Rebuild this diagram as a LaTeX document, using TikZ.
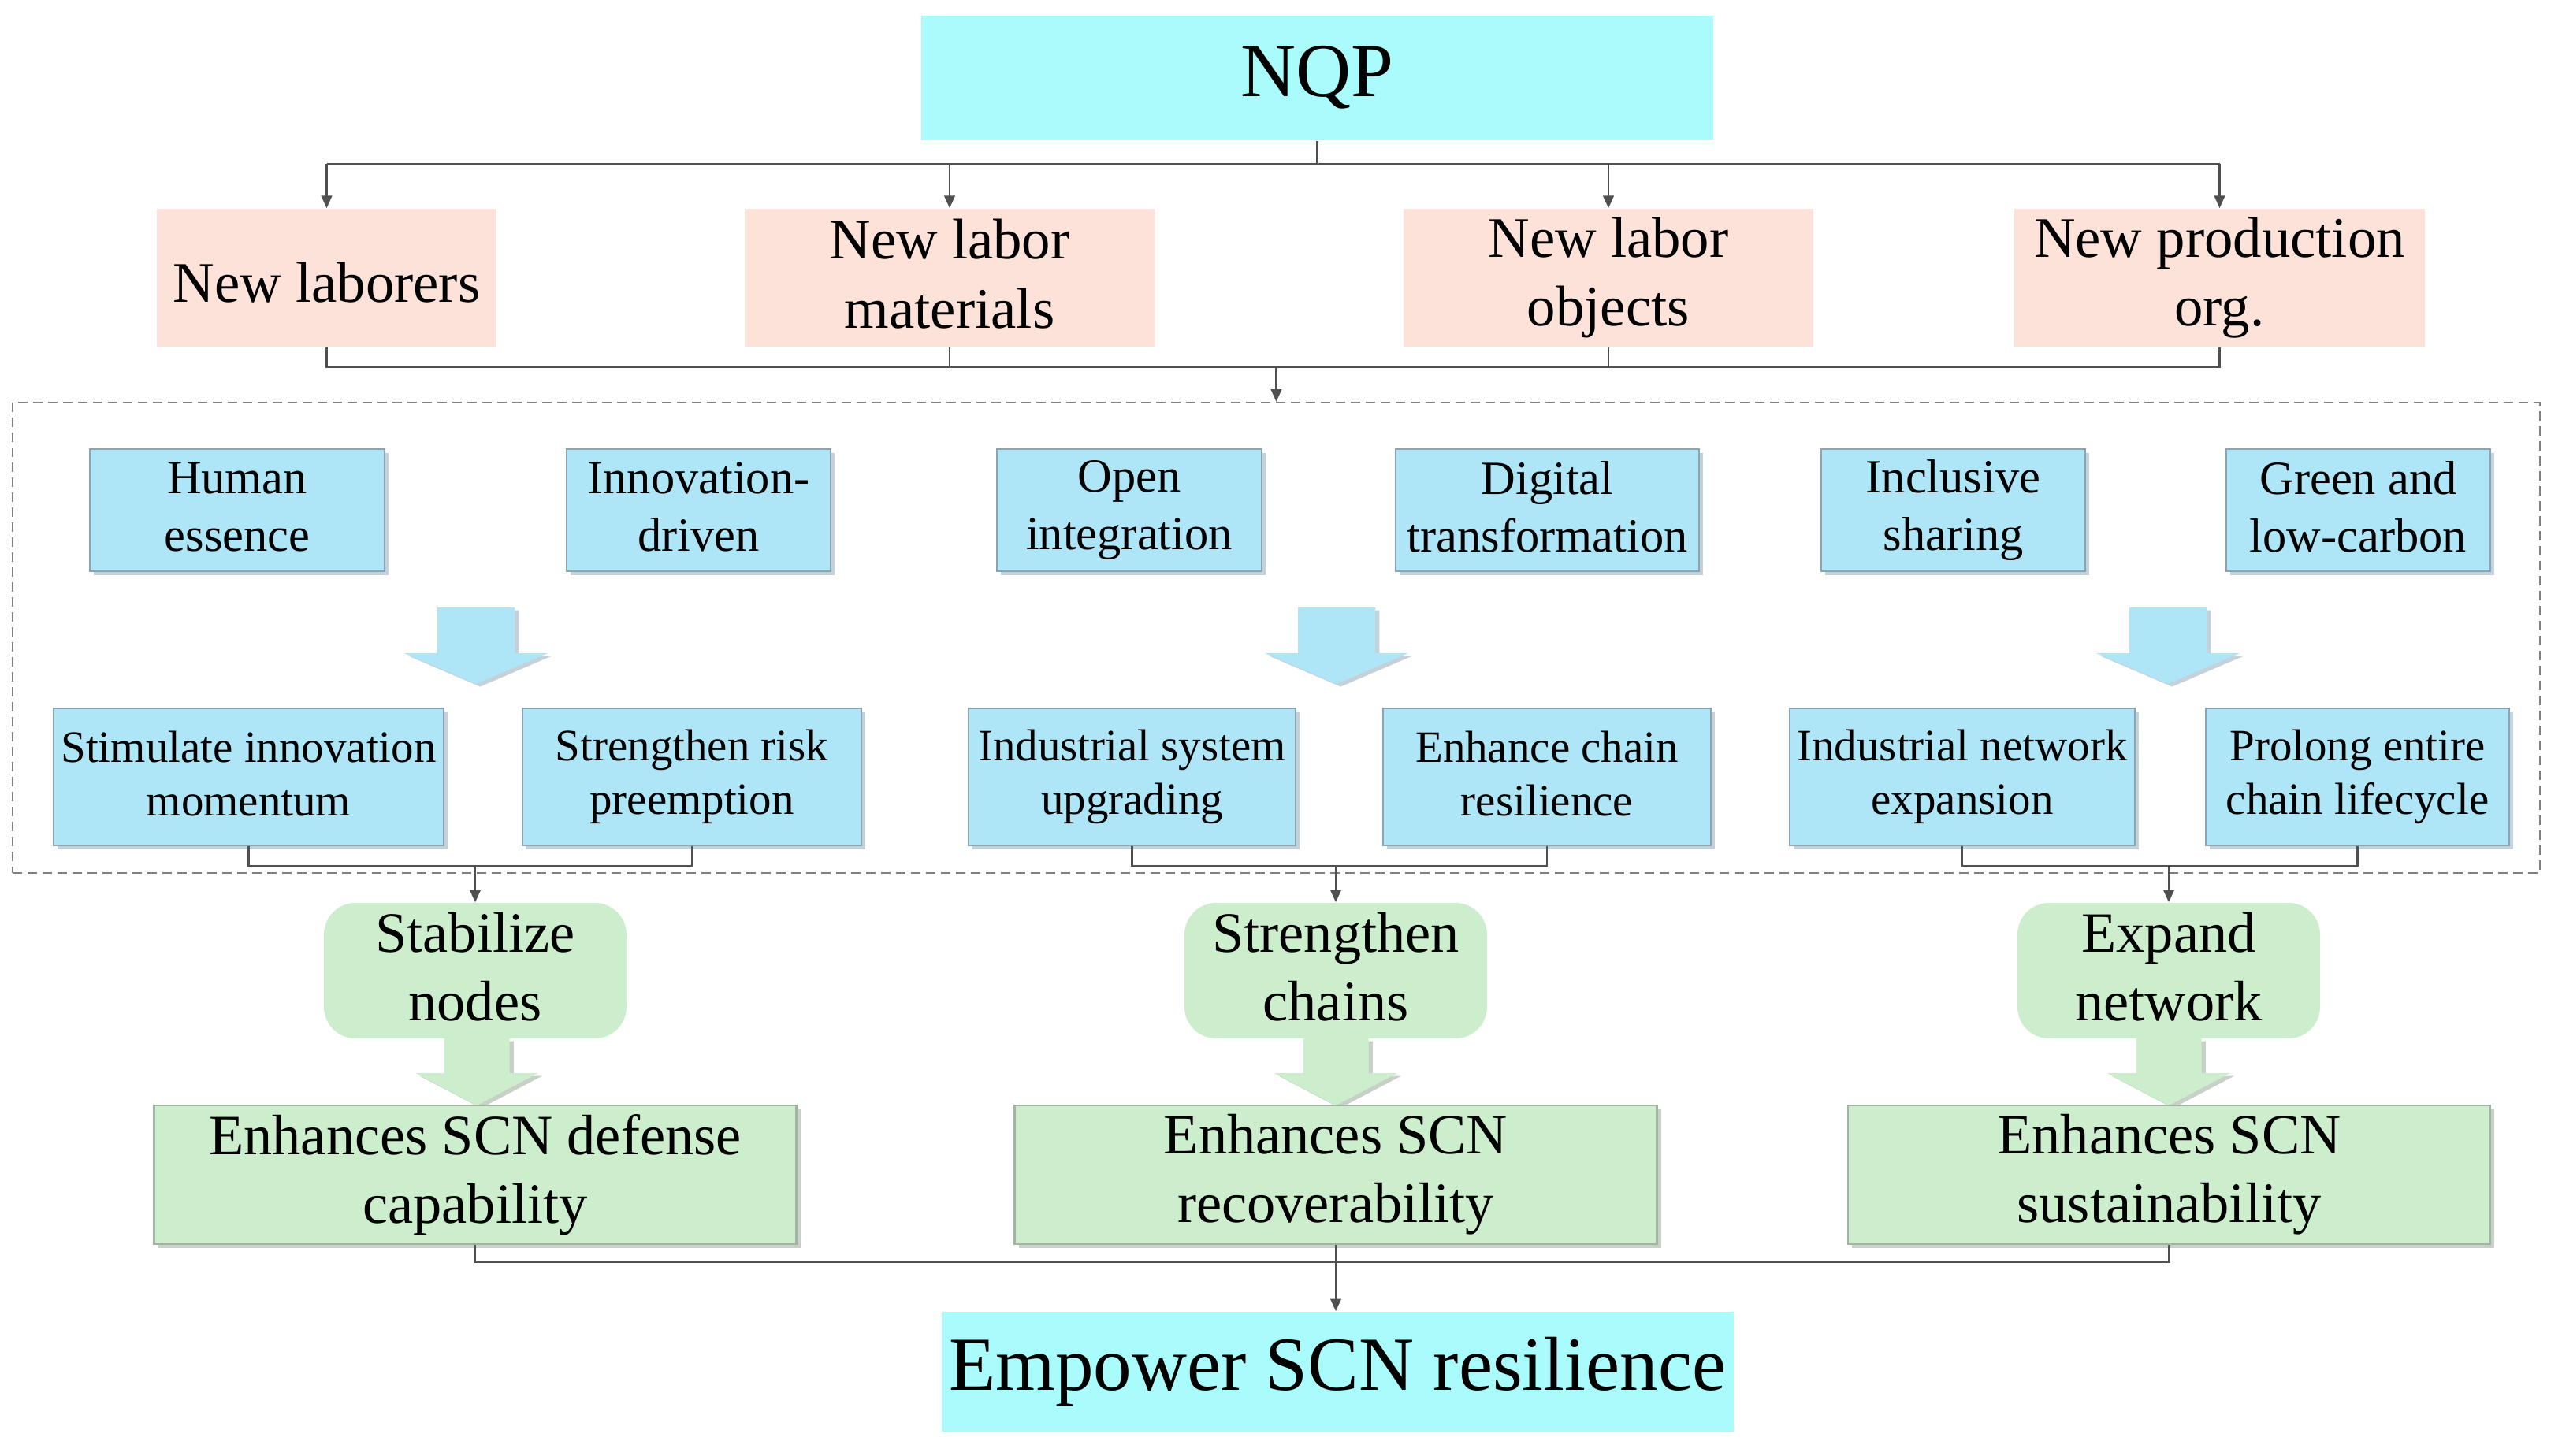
\documentclass[tikz,border=0pt]{standalone}
\usepackage{fontspec}
\setmainfont{Liberation Serif}
\usetikzlibrary{arrows.meta,positioning,calc,shadows}

\definecolor{nqpcyan}{HTML}{AAFCFC}
\definecolor{elempink}{HTML}{FCE2D8}
\definecolor{featblue}{HTML}{AEE6F7}
\definecolor{featedge}{HTML}{8AA4B2}
\definecolor{goalgreen}{HTML}{CDEECD}
\definecolor{goaledge}{HTML}{A3B3A3}
\definecolor{linkgray}{HTML}{505050}
\newcommand\strutht{0.95}
\newcommand\strutdp{0.12}
\newcommand\boxstrut{\rule[-\strutdp\baselineskip]{0pt}{\strutht\baselineskip}}

\begin{document}
\begin{tikzpicture}[
  box/.style={inner sep=0pt,align=center,text=black,
    execute at begin node=\boxstrut,execute at end node=\boxstrut},
  head/.style={box,fill=nqpcyan,minimum width=10.05cm,font=\fontsize{27.6}{33}\selectfont,
    /utils/exec={\def\strutht{0.8}\def\strutdp{0.2}}},
  elem/.style={box,fill=elempink,minimum height=1.75cm,font=\fontsize{20.7}{24.8}\selectfont},
  feat/.style={box,fill=featblue,draw=featedge,line width=0.7pt,minimum height=1.55cm,
    font=\fontsize{17.2}{20.6}\selectfont,
    drop shadow={shadow xshift=1.5pt,shadow yshift=-1.5pt,fill=featedge,opacity=0.5}},
  mech/.style={feat,minimum height=1.74cm,font=\fontsize{16.2}{19.4}\selectfont},
  goal/.style={box,fill=goalgreen,rounded corners=0.4cm,minimum width=3.84cm,minimum height=1.72cm,
    font=\fontsize{20.6}{24.7}\selectfont},
  effect/.style={box,fill=goalgreen,draw=goaledge,line width=0.8pt,minimum width=8.15cm,minimum height=1.76cm,
    font=\fontsize{20.6}{24.7}\selectfont,
    drop shadow={shadow xshift=1.5pt,shadow yshift=-1.5pt,fill=goaledge,opacity=0.6}},
  link/.style={draw=linkgray,line width=0.8pt},
  tip/.style={-{Triangle[length=4.5pt,width=3.8pt]}},
  frame/.style={draw=gray,line width=0.6pt,dash pattern=on 0.12cm off 0.07cm}
]
\useasboundingbox (0,0) rectangle (32.51,-18.47);

% ---------- top: NQP and its four elements
\node[head,minimum height=1.58cm] (nqp) at (16.715,-0.99) {NQP};
\node[elem,minimum width=4.31cm] (lab) at (4.145,-3.525) {New laborers};
\node[elem,minimum width=5.21cm] (mat) at (12.05,-3.525) {New labor\\materials};
\node[elem,minimum width=5.20cm] (obj) at (20.41,-3.525) {New labor\\objects};
\node[elem,minimum width=5.21cm] (org) at (28.165,-3.525) {New production\\org.};
\coordinate (bus1) at (0,-2.08);
\coordinate (bus2) at (0,-4.66);
\draw[link] (nqp.south) -- (nqp.south |- bus1);
\draw[link] (lab.north |- bus1) -- (org.north |- bus1);
\foreach \n in {lab,mat,obj,org}
  \draw[link,tip] (\n.north |- bus1) -- (\n.north);
\draw[link] (lab.south) |- (org.south |- bus2) -- (org.south);
\foreach \n in {mat,obj}
  \draw[link] (\n.south) -- (\n.south |- bus2);

% ---------- dashed frame: features and mechanisms
\node[frame,minimum width=32.07cm,minimum height=5.97cm] (frame) at (16.195,-8.095) {};
\draw[link,tip] (frame.north |- bus2) -- (frame.north);
\node[feat,minimum width=3.74cm] (hum) at (3.01,-6.475) {Human\\essence};
\node[feat,minimum width=3.35cm] (inn) at (8.865,-6.475) {Innovation-\\driven};
\node[feat,minimum width=3.36cm] (opn) at (14.33,-6.475) {Open\\integration};
\node[feat,minimum width=3.85cm] (dig) at (19.635,-6.475) {Digital\\transformation};
\node[feat,minimum width=3.35cm] (inc) at (24.785,-6.475) {Inclusive\\sharing};
\node[feat,minimum width=3.35cm] (grn) at (29.925,-6.475) {Green and\\low-carbon};
\foreach \x in {6.04,16.96,27.51}
  \fill[featblue,drop shadow={shadow xshift=1.5pt,shadow yshift=-1pt,fill=featedge,opacity=0.5}]
    ({\x-0.49},-7.71) -- ({\x+0.49},-7.71) -- ({\x+0.49},-8.29) -- ({\x+0.91},-8.29)
    -- (\x,-8.68) -- ({\x-0.91},-8.29) -- ({\x-0.49},-8.29) -- cycle;
\node[mech,minimum width=4.95cm] (stim) at (3.155,-9.86) {Stimulate innovation\\momentum};
\node[mech,minimum width=4.30cm] (risk) at (8.78,-9.86) {Strengthen risk\\preemption};
\node[mech,minimum width=4.15cm] (sys) at (14.365,-9.86) {Industrial system\\upgrading};
\node[mech,minimum width=4.16cm] (chn) at (19.63,-9.86) {Enhance chain\\resilience};
\node[mech,minimum width=4.38cm] (net) at (24.90,-9.86) {Industrial network\\expansion};
\node[mech,minimum width=3.85cm] (life) at (29.915,-9.86) {Prolong entire\\chain lifecycle};

% ---------- goals and effects
\node[goal] (nod) at (6.03,-12.32) {Stabilize\\nodes};
\node[goal] (chs) at (16.95,-12.32) {Strengthen\\chains};
\node[goal] (exp) at (27.52,-12.32) {Expand\\network};
\coordinate (br) at (0,-10.99);
\foreach \a/\b/\g in {stim/risk/nod,sys/chn/chs,net/life/exp}{
  \draw[link] (\a.south) |- (\b.south |- br) -- (\b.south);
  \draw[link,tip] (\g.north |- br) -- (\g.north);
}
\foreach \x in {6.05,16.95,27.52}
  \fill[goalgreen,drop shadow={shadow xshift=1.5pt,shadow yshift=-1pt,fill=goaledge,opacity=0.6}]
    ({\x-0.415},-13.18) -- ({\x+0.415},-13.18) -- ({\x+0.415},-13.62) -- ({\x+0.78},-13.62)
    -- (\x,-14.03) -- ({\x-0.78},-13.62) -- ({\x-0.415},-13.62) -- cycle;
\node[effect] (def) at (6.03,-14.91) {Enhances SCN defense\\capability};
\node[effect] (rec) at (16.95,-14.91) {Enhances SCN\\recoverability};
\node[effect] (sus) at (27.525,-14.91) {Enhances SCN\\sustainability};

% ---------- result
\node[head,minimum height=1.52cm] (res) at (16.975,-17.41) {Empower SCN resilience};
\coordinate (bus3) at (0,-16.02);
\draw[link] (def.south) |- (sus.south |- bus3) -- (sus.south);
\draw[link,tip] (rec.south) -- (rec.south |- res.north);
\end{tikzpicture}
\end{document}
